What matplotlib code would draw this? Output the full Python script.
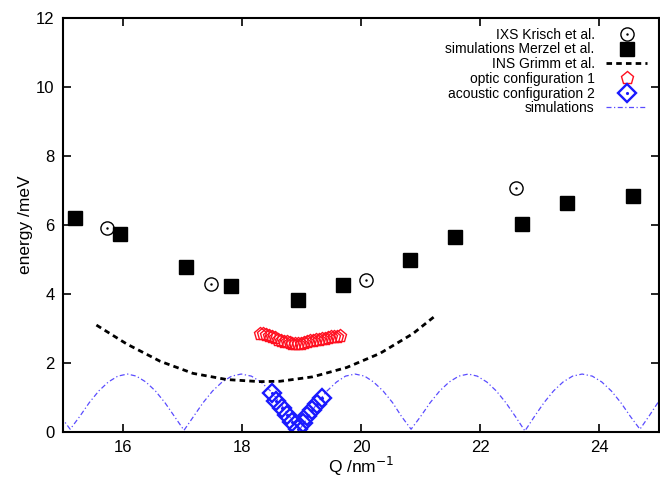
import matplotlib
matplotlib.use("Agg")
import matplotlib.pyplot as plt
from matplotlib.legend_handler import HandlerTuple

plt.rcParams['font.family'] = ['Liberation Sans', 'DejaVu Sans']

# IXS Krisch et al.
ixs_q = [15.74, 17.48, 20.08, 22.60]
ixs_e = [5.90, 4.30, 4.42, 7.08]

# simulations Merzel et al.
merzel_q = [15.20, 15.95, 17.07, 17.82, 18.94, 19.70, 20.82, 21.58, 22.70, 23.45, 24.57]
merzel_e = [6.20, 5.75, 4.79, 4.22, 3.83, 4.27, 4.98, 5.64, 6.03, 6.63, 6.83]

# INS Grimm et al.
grimm_q = [15.56, 16.07, 16.63, 17.18, 17.75, 18.30, 18.64, 19.19, 19.76, 20.32, 20.87, 21.24]
grimm_e = [3.10, 2.55, 2.05, 1.70, 1.52, 1.46, 1.47, 1.60, 1.87, 2.28, 2.85, 3.36]

# optic configuration 1
optic_q = [18.30, 18.35, 18.40, 18.45, 18.50, 18.55, 18.60, 18.65, 18.70, 18.75,
           18.80, 18.85, 18.90, 18.95, 19.00, 19.05, 19.10, 19.15, 19.20, 19.25,
           19.30, 19.35, 19.40, 19.45, 19.50, 19.55, 19.60, 19.65]
optic_e = [2.83, 2.84, 2.81, 2.78, 2.75, 2.72, 2.68, 2.65, 2.62, 2.60,
           2.58, 2.56, 2.55, 2.55, 2.56, 2.58, 2.61, 2.63, 2.65, 2.66,
           2.68, 2.70, 2.71, 2.72, 2.74, 2.75, 2.76, 2.78]

# acoustic configuration 2
acoustic_q = [18.50, 18.58, 18.67, 18.76, 18.85, 18.94, 19.02, 19.10, 19.18, 19.26, 19.34]
acoustic_e = [1.12, 0.91, 0.70, 0.49, 0.28, 0.08, 0.27, 0.45, 0.63, 0.81, 0.99]

# simulations
sim_q = [14.96, 15.12,
         15.28, 15.44, 15.60, 15.76, 15.92, 16.08, 16.23, 16.39, 16.55, 16.71, 16.87, 17.03,
         17.19, 17.35, 17.51, 17.67, 17.83, 17.99, 18.16, 18.32, 18.48, 18.64, 18.80, 18.96,
         19.12, 19.27, 19.43, 19.59, 19.74, 19.90, 20.06, 20.21, 20.37, 20.53, 20.68, 20.84,
         21.00, 21.16, 21.32, 21.48, 21.64, 21.80, 21.95, 22.11, 22.27, 22.43, 22.59, 22.75,
         22.91, 23.07, 23.23, 23.39, 23.55, 23.71, 23.88, 24.04, 24.20, 24.36, 24.52, 24.68,
         24.84, 25.00]
sim_e = [0.45, 0.08,
         0.45, 0.85, 1.19, 1.45, 1.62, 1.68, 1.62, 1.45, 1.19, 0.85, 0.45, 0.05,
         0.45, 0.85, 1.19, 1.45, 1.62, 1.68, 1.62, 1.45, 1.19, 0.85, 0.45, 0.05,
         0.45, 0.85, 1.19, 1.45, 1.62, 1.68, 1.62, 1.45, 1.19, 0.85, 0.45, 0.08,
         0.45, 0.85, 1.19, 1.45, 1.62, 1.68, 1.62, 1.45, 1.19, 0.85, 0.45, 0.03,
         0.45, 0.85, 1.19, 1.45, 1.62, 1.68, 1.62, 1.45, 1.19, 0.85, 0.45, 0.08,
         0.48, 0.90]

fig = plt.figure(figsize=(6.6, 4.83), dpi=100)
ax = fig.add_axes([0.0955, 0.1056, 0.903, 0.857])

sim_line, = ax.plot(sim_q, sim_e, color='#5a4cff', lw=0.9, dashes=[4, 2, 1, 2])
grimm_line, = ax.plot(grimm_q, grimm_e, color='black', lw=2, dashes=[2.0, 1.5])
optic, = ax.plot(optic_q, optic_e, ls='none', marker='p', ms=9.5, mfc='none',
                 mec='#ff1020', mew=1.0)
ac, = ax.plot(acoustic_q, acoustic_e, ls='none', marker='D', ms=9, mfc='none',
              mec='#1a1aff', mew=1.7)
ac_dot, = ax.plot(acoustic_q, acoustic_e, ls='none', marker='.', ms=2.5, color='#1a1aff')
ixs, = ax.plot(ixs_q, ixs_e, ls='none', marker='o', ms=9.5, mfc='none', mec='black', mew=1.0)
ixs_dot, = ax.plot(ixs_q, ixs_e, ls='none', marker='.', ms=1.5, color='black')
merzel, = ax.plot(merzel_q, merzel_e, ls='none', marker='s', ms=10, color='black')

ax.set_xlim(15, 25)
ax.set_ylim(0, 12)
ax.set_xticks([16, 18, 20, 22, 24])
ax.set_yticks([0, 2, 4, 6, 8, 10, 12])
ax.tick_params(direction='in', length=6, width=1.2, top=True, right=True,
               labelsize=12, pad=6)
for s in ax.spines.values():
    s.set_linewidth(1.5)

ax.set_xlabel('Q /nm$^{-1}$', fontsize=12.5, labelpad=0)
ax.set_ylabel('energy /meV', fontsize=12.5, labelpad=2)

leg = ax.legend([(ixs, ixs_dot), merzel, grimm_line, optic, (ac, ac_dot), sim_line],
                ['IXS Krisch et al.', 'simulations Merzel et al.', 'INS Grimm et al.',
                 'optic configuration 1', 'acoustic configuration 2', 'simulations'],
                handler_map={tuple: HandlerTuple(ndivide=1, pad=0)},
                loc='upper right', bbox_to_anchor=(0.99, 0.99), markerfirst=False,
                frameon=False, fontsize=10, handlelength=3.0, handletextpad=0.8,
                labelspacing=0.05, borderaxespad=0)

fig.savefig('out.png', dpi=100)
